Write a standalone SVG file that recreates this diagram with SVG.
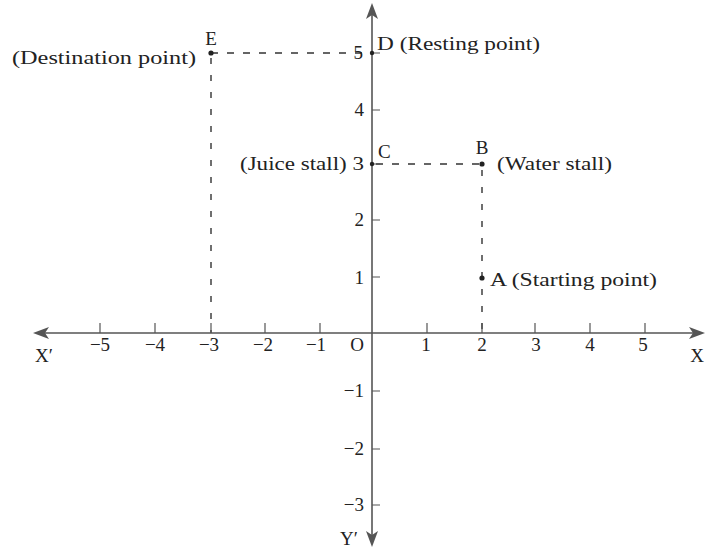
<svg xmlns="http://www.w3.org/2000/svg" width="705" height="548" viewBox="0 0 705 548">
<style>
.ax{stroke:#555;stroke-width:1.6;fill:none}
.tk{stroke:#555;stroke-width:1.2}
.ds{stroke:#333;stroke-width:1.4;stroke-dasharray:7 9;fill:none}
.dsv{stroke:#333;stroke-width:1.4;stroke-dasharray:6 11;fill:none}
text{font-family:"Liberation Serif","DejaVu Serif",serif;font-size:19px;fill:#222}
.m{text-anchor:middle}
.e{text-anchor:end}
.pt{fill:#222}
.ah{fill:#555}
</style>
<rect width="705" height="548" fill="#fff"/>
<g id="connectors">
<path class="ds" d="M211 53 H365"/>
<path class="dsv" d="M211 58 V333"/>
<path class="ds" d="M376 164 H482"/>
<path class="dsv" d="M482 170 V333"/>
</g>
<g id="axes">
<path class="ax" d="M40 333 H698"/>
<path class="ax" d="M372 10 V540"/>
<path class="ah" d="M33 333 L49 327 L45 333 L49 339 Z"/>
<path class="ah" d="M705 333 L689 327 L693 333 L689 339 Z"/>
<path class="ah" d="M372 3 L366 19 L372 15 L378 19 Z"/>
<path class="ah" d="M372 547 L366 531 L372 535 L378 531 Z"/>
<g class="tk">
<path d="M100 323V333M155 323V333M211 323V333M265 323V333M320 323V333M427 323V333M482 323V333M535 323V333M590 323V333M645 323V333"/>
<path d="M372 53H380M372 110H380M372 164H380M372 220H380M372 277H380M372 391H380M372 449H380M372 505H380"/>
</g>
<text x="44" y="362" class="m">X′</text>
<text x="697" y="362" class="m">X</text>
<text x="349" y="545" class="m">Y′</text>
<text x="357" y="351" class="m">O</text>
<text x="100" y="351" class="m">−5</text>
<text x="155" y="351" class="m">−4</text>
<text x="209" y="351" class="m">−3</text>
<text x="263" y="351" class="m">−2</text>
<text x="316" y="351" class="m">−1</text>
<text x="426" y="351" class="m">1</text>
<text x="482" y="351" class="m">2</text>
<text x="536" y="351" class="m">3</text>
<text x="590" y="351" class="m">4</text>
<text x="643" y="351" class="m">5</text>
<text x="363" y="59" class="e">5</text>
<text x="364" y="116" class="e">4</text>
<text x="364" y="226" class="e">2</text>
<text x="364" y="284" class="e">1</text>
<text x="364" y="397" class="e">−1</text>
<text x="364" y="455" class="e">−2</text>
<text x="364" y="511" class="e">−3</text>
</g>
<g id="E">
<circle class="pt" cx="211" cy="53" r="2.6"/>
<text x="211" y="45" class="m">E</text>
<text x="196" y="64" class="e" textLength="184" lengthAdjust="spacingAndGlyphs">(Destination point)</text>
</g>
<g id="D">
<circle class="pt" cx="372" cy="53" r="2.2"/>
<text x="377" y="50" textLength="163" lengthAdjust="spacingAndGlyphs">D (Resting point)</text>
</g>
<g id="C">
<circle class="pt" cx="372" cy="164" r="2.2"/>
<text x="378" y="158">C</text>
<text x="364" y="170" class="e" textLength="124" lengthAdjust="spacingAndGlyphs">(Juice stall) 3</text>
</g>
<g id="B">
<circle class="pt" cx="482" cy="164" r="2.6"/>
<text x="482" y="154" class="m">B</text>
<text x="497" y="170" textLength="115" lengthAdjust="spacingAndGlyphs">(Water stall)</text>
</g>
<g id="A">
<circle class="pt" cx="482" cy="278" r="2.6"/>
<text x="490" y="286" textLength="167" lengthAdjust="spacingAndGlyphs">A (Starting point)</text>
</g>
</svg>
